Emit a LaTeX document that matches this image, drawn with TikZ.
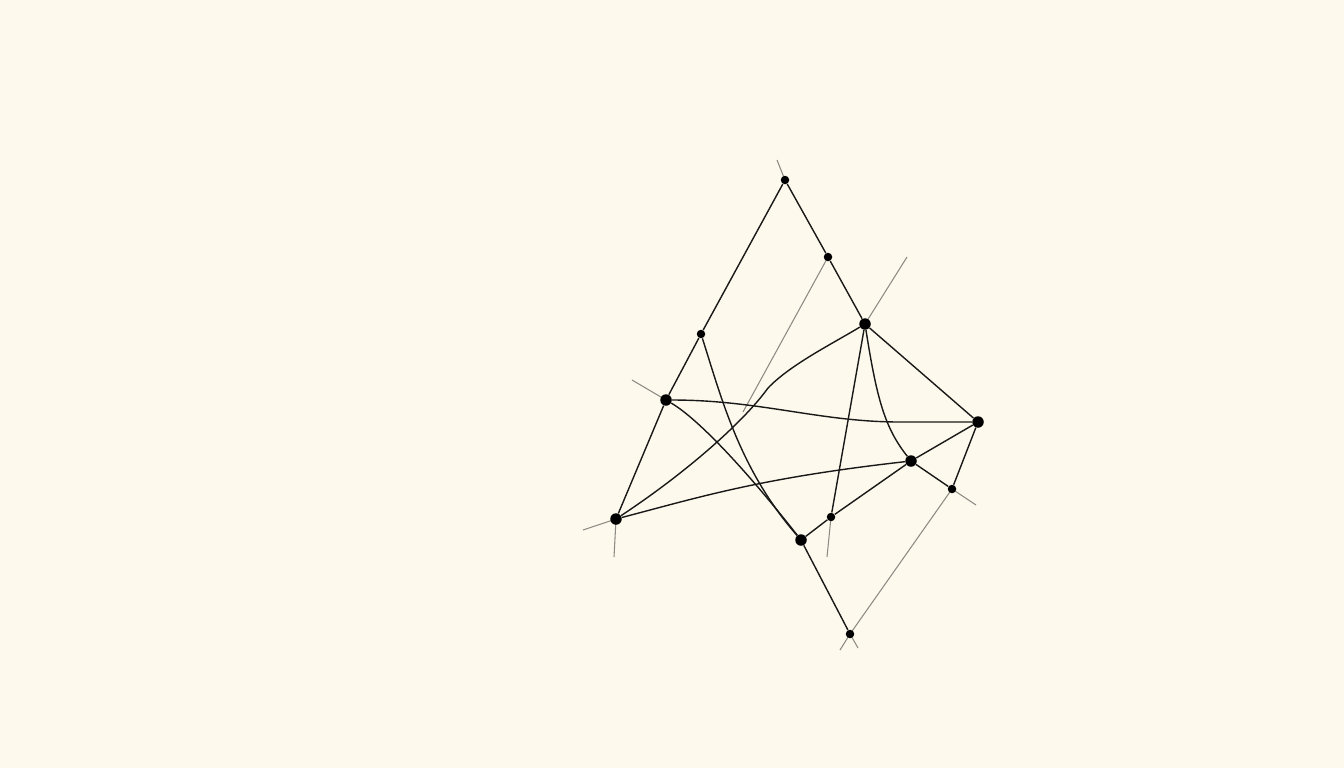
\documentclass[tikz,border=0pt]{standalone}
\definecolor{paper}{HTML}{FDF9EC}
\definecolor{ghost}{HTML}{8C8A84}
\begin{document}
\begin{tikzpicture}[x=0.02cm,y=-0.02cm,
  big/.style={circle,fill=black,inner sep=0pt,minimum size=0.23cm},
  small/.style={circle,fill=black,inner sep=0pt,minimum size=0.17cm},
  edge/.style={line width=0.8pt,black!90},
  guide/.style={line width=0.6pt,ghost}]
\fill[paper] (0,0) rectangle (1344,768);
\useasboundingbox (0,0) rectangle (1344,768);
\coordinate (T0) at (777,160);
\coordinate (R10) at (743,412);
\coordinate (R20) at (907,257);
\coordinate (L20) at (632,380);
\coordinate (BL0) at (583,530);
\coordinate (BL1) at (614,557);
\coordinate (C0) at (827,557);
\coordinate (S0) at (976,505);
\coordinate (B0) at (840,650);
\coordinate (B1) at (858,648);

% gray guide lines
\draw[guide] (T0) -- (785,180);
\draw[guide] (828,257) -- (R10);
\draw[guide] (865,324) -- (R20);
\draw[guide] (L20) -- (666,400);
\draw[guide] (BL0) -- (616,519) -- (BL1);
\draw[guide] (831,517) -- (C0);
\draw[guide] (S0) -- (952,489) -- (850,634);
\draw[guide] (B0) -- (850,634) -- (B1);

\node[small] (T) at (785,180) {};
\node[small] (R1) at (828,257) {};
\node[big] (R2) at (865,324) {};
\node[small] (L1) at (701,334) {};
\node[big] (L2) at (666,400) {};
\node[big] (BL) at (616,519) {};
\node[big] (E) at (978,422) {};
\node[big] (M) at (911,461) {};
\node[small] (S) at (952,489) {};
\node[small] (C) at (831,517) {};
\node[big] (D) at (801,540) {};
\node[small] (B) at (850,634) {};

% black connectors
\draw[edge] (T) -- (L1) -- (L2) -- (BL);
\draw[edge] (T) -- (R1) -- (R2) -- (E);
\draw[edge] (R2) -- (C);
\draw[edge] (R2) .. controls (877,400) and (885,428) .. (M);
\draw[edge] (BL) .. controls (690,470) and (745,420) .. (768,388) .. controls (790,365) and (830,345) .. (R2);
\draw[edge] (L2) .. controls (760,400) and (820,422) .. (900,422) -- (E);
\draw[edge] (L2) .. controls (700,420) and (750,475) .. (D);
\draw[edge] (L1) .. controls (722,400) and (740,470) .. (D);
\draw[edge] (BL) .. controls (700,497) and (760,478) .. (M);
\draw[edge] (E) -- (M) -- (S) -- (E);
\draw[edge] (M) -- (C) -- (D) -- (B);
\end{tikzpicture}
\end{document}
